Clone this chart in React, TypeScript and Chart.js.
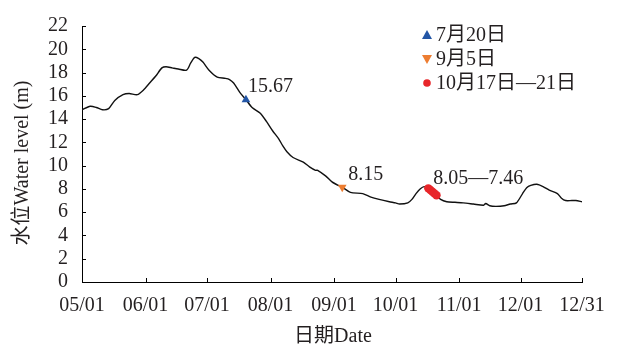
import React, { useEffect, useRef } from "react";
import { Chart, registerables } from "chart.js";

Chart.register(...registerables);

// Day index counted from 05/01 (day 0) to 12/31 (day 244)
const tickDays = [0, 31, 61, 92, 123, 153, 184, 214, 244];
const tickLabels = ["05/01", "06/01", "07/01", "08/01", "09/01", "10/01", "11/01", "12/01", "12/31"];
const yTicks = [0, 2, 4, 6, 8, 10, 12, 14, 16, 18, 20, 22];

const days = [
  0, 4, 7, 10, 13, 16, 20, 23, 27, 30, 33, 36, 39, 41, 44, 47, 51, 53, 55, 57, 59, 62, 66, 70, 72,
  74, 77, 80, 83, 87, 90, 93, 96, 98, 100, 103, 108, 111, 114, 115, 119, 122, 125, 127, 131, 137,
  141, 145, 150, 153, 155, 159, 161, 163, 165, 167, 169, 170, 171, 172, 173, 175, 178, 182, 186,
  191, 196, 197, 199, 202, 206, 209, 212, 215, 217, 219, 222, 225, 228, 232, 234, 236, 239, 241, 244,
];
const levels = [
  14.8, 15.1, 15.0, 14.8, 14.9, 15.6, 16.1, 16.2, 16.1, 16.5, 17.1, 17.7, 18.4, 18.5, 18.4, 18.3,
  18.2, 18.8, 19.3, 19.2, 18.9, 18.2, 17.6, 17.5, 17.4, 17.1, 16.3, 15.67, 15.0, 14.5, 13.8, 13.0,
  12.3, 11.7, 11.2, 10.7, 10.3, 9.9, 9.6, 9.6, 9.1, 8.6, 8.3, 8.15, 7.7, 7.6, 7.3, 7.1, 6.9, 6.8,
  6.7, 6.8, 7.1, 7.6, 8.0, 8.2, 8.05, 7.9, 7.75, 7.6, 7.46, 7.1, 6.9, 6.85, 6.8, 6.7, 6.6, 6.75,
  6.55, 6.5, 6.55, 6.7, 6.8, 7.6, 8.1, 8.3, 8.4, 8.2, 7.9, 7.6, 7.2, 7.0, 7.0, 7.0, 6.9,
];

const jul20Days = [80];
const jul20Levels = [15.67];
const sep5Days = [127];
const sep5Levels = [8.15];
const octDays = [169, 170, 171, 172, 173];
const octLevels = [8.05, 7.9, 7.75, 7.6, 7.46];

const legendLabels = ["7月20日", "9月5日", "10月17日—21日"];
const annotationTexts = ["15.67", "8.15", "8.05—7.46"];
const annotationDays = [80, 127, 169];
const annotationLevels = [15.67, 8.15, 8.05];

const BLUE = "#2356a6";
const ORANGE = "#ed7d31";
const RED = "#e8262a";
const TEXT = "#231f20";
const FONT = '"Liberation Serif", "Noto Sans CJK SC", serif';

function drawMarker(ctx: CanvasRenderingContext2D, kind: number, cx: number, cy: number) {
  ctx.beginPath();
  if (kind === 0) {
    ctx.fillStyle = BLUE;
    ctx.moveTo(cx, cy - 5);
    ctx.lineTo(cx + 5, cy + 4);
    ctx.lineTo(cx - 5, cy + 4);
    ctx.closePath();
  } else if (kind === 1) {
    ctx.fillStyle = ORANGE;
    ctx.moveTo(cx, cy + 5);
    ctx.lineTo(cx + 5, cy - 4);
    ctx.lineTo(cx - 5, cy - 4);
    ctx.closePath();
  } else {
    ctx.fillStyle = RED;
    ctx.arc(cx, cy, 3.8, 0, Math.PI * 2);
  }
  ctx.fill();
}

const overlay = {
  id: "overlay",
  afterDraw(chart: any) {
    const { ctx, chartArea } = chart;
    const xs = chart.scales.x;
    const ys = chart.scales.y;
    ctx.save();
    // inward tick marks
    ctx.strokeStyle = "#000";
    ctx.lineWidth = 1;
    yTicks.forEach((v) => {
      const py = Math.round(ys.getPixelForValue(v)) + 0.5;
      ctx.beginPath();
      ctx.moveTo(chartArea.left, py);
      ctx.lineTo(chartArea.left + 4, py);
      ctx.stroke();
    });
    tickDays.forEach((d) => {
      const px = Math.round(xs.getPixelForValue(d)) + 0.5;
      ctx.beginPath();
      ctx.moveTo(px, chartArea.bottom);
      ctx.lineTo(px, chartArea.bottom - 4);
      ctx.stroke();
    });

    // value annotations
    ctx.font = `20px ${FONT}`;
    ctx.fillStyle = TEXT;
    ctx.textAlign = "left";
    ctx.textBaseline = "middle";
    const offs = [
      [2, -13],
      [6, -12],
      [5, -10],
    ];
    annotationTexts.forEach((t, i) => {
      const px = xs.getPixelForValue(annotationDays[i]);
      const py = ys.getPixelForValue(annotationLevels[i]);
      ctx.fillText(t, px + offs[i][0], py + offs[i][1]);
    });

    // legend
    const lx = 427;
    const rows = [35, 59, 83];
    legendLabels.forEach((t, i) => {
      drawMarker(ctx, i, lx, rows[i]);
      ctx.fillStyle = TEXT;
      ctx.fillText(t, lx + 9, rows[i] + 1);
    });

    // axis titles
    ctx.textAlign = "center";
    ctx.fillText("日期Date", (chartArea.left + chartArea.right) / 2 + 1, 337);
    ctx.translate(23, 163);
    ctx.rotate(-Math.PI / 2);
    ctx.fillText("水位Water level (m)", 0, 0);
    ctx.restore();
  },
};

export default function App() {
  const ref = useRef<HTMLCanvasElement>(null);
  useEffect(() => {
    if (!ref.current) return;
    const chart = new Chart(ref.current, {
      type: "line",
      data: {
        datasets: [
          {
            label: "level",
            data: days.map((d, i) => ({ x: d, y: levels[i] })),
            borderColor: "#111",
            borderWidth: 1.4,
            pointRadius: 0,
            tension: 0.25,
            order: 5,
          },
          {
            label: legendLabels[0],
            data: jul20Days.map((d, i) => ({ x: d, y: jul20Levels[i] })),
            showLine: false,
            pointStyle: "triangle",
            pointRadius: 5,
            backgroundColor: BLUE,
            borderColor: BLUE,
            borderWidth: 0,
            order: 1,
          },
          {
            label: legendLabels[1],
            data: sep5Days.map((d, i) => ({ x: d, y: sep5Levels[i] })),
            showLine: false,
            pointStyle: "triangle",
            rotation: 180,
            pointRadius: 5,
            backgroundColor: ORANGE,
            borderColor: ORANGE,
            borderWidth: 0,
            order: 1,
          },
          {
            label: legendLabels[2],
            data: octDays.map((d, i) => ({ x: d, y: octLevels[i] })),
            showLine: false,
            pointStyle: "circle",
            pointRadius: 4.2,
            backgroundColor: RED,
            borderColor: RED,
            borderWidth: 0,
            order: 1,
          },
        ],
      },
      options: {
        animation: false,
        responsive: false,
        layout: { padding: { top: 5, right: 35, left: 0, bottom: 0 } },
        plugins: { legend: { display: false }, tooltip: { enabled: false } },
        scales: {
          x: {
            type: "linear",
            min: 0,
            max: 244,
            afterBuildTicks: (s: any) => {
              s.ticks = tickDays.map((v) => ({ value: v }));
            },
            afterFit: (s: any) => {
              s.height = 66;
            },
            ticks: {
              autoSkip: false,
              maxRotation: 0,
              padding: 12,
              color: TEXT,
              font: { family: FONT, size: 20 },
              callback: (v: any) => {
                const i = tickDays.indexOf(Number(v));
                return i >= 0 ? tickLabels[i] : "";
              },
            },
            grid: { display: true, drawOnChartArea: false, drawTicks: false },
            border: { display: true, color: "#000", width: 1 },
          },
          y: {
            min: 0,
            max: 22,
            afterBuildTicks: (s: any) => {
              s.ticks = yTicks.map((v) => ({ value: v }));
            },
            afterFit: (s: any) => {
              s.width = 82;
            },
            ticks: {
              autoSkip: false,
              padding: 14,
              color: TEXT,
              font: { family: FONT, size: 20 },
            },
            grid: { display: true, drawOnChartArea: false, drawTicks: false },
            border: { display: true, color: "#000", width: 1 },
          },
        },
      },
      plugins: [overlay],
    });
    return () => chart.destroy();
  }, []);
  return (
    <div style={{ position: "fixed", left: 0, top: 0, width: 617, height: 348, background: "#fff" }}>
      <canvas ref={ref} width={617} height={348} style={{ width: 617, height: 348 }} />
    </div>
  );
}
